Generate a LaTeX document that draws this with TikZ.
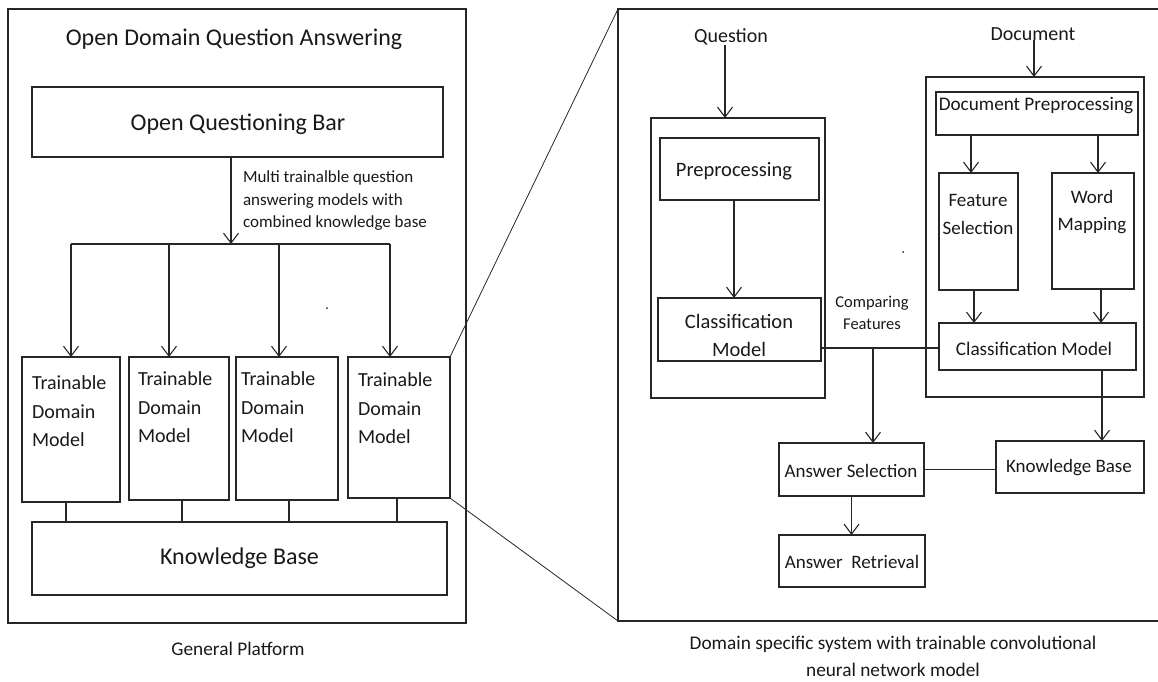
\documentclass[tikz,border=0pt]{standalone}
\usepackage{fontspec}
\setmainfont{Carlito}
\usetikzlibrary{arrows.meta,calc}
\begin{document}
\begin{tikzpicture}[x=1pt,y=-1pt,
  ln/.style={draw=black!85, line width=1.2pt},
  zoomln/.style={draw=black!85, line width=0.8pt},
  arr/.style={ln, -{Straight Barb[length=10pt,width=15pt,line width=1.1pt]}},
  box/.style={draw=black!85, line width=1.3pt, rectangle, inner sep=0pt, outer sep=0pt, anchor=north west, align=center, text=black!90},
  txt/.style={inner sep=0pt, outer sep=0pt, text=black!90},
  fA/.style={font=\fontsize{24}{29}\selectfont},
  fB/.style={font=\fontsize{20}{28.5}\selectfont},
  fC/.style={font=\fontsize{19}{28}\selectfont},
  fD/.style={font=\fontsize{19.2}{26}\selectfont},
  fE/.style={font=\fontsize{17}{22.5}\selectfont},
  fF/.style={font=\fontsize{19.3}{27}\selectfont},
]
\useasboundingbox (0,0) rectangle (1158,681);

% ---------------- left panel ----------------
\node[box, minimum width=458pt, minimum height=614pt] (frameL) at (8,9) {};
\node[txt, fA] (title) at (234,39) {Open Domain Question Answering};
\node[box, minimum width=411pt, minimum height=70pt] (oqb) at (32,87) {};
\node[txt, fA] (oqbt) at (238,124) {Open Questioning Bar};
\node[txt, fE, anchor=north west, align=left] (annot) at (243,171) {Multi trainalble question\\answering models with\\combined knowledge base};

\node[box, minimum width=98pt, minimum height=145pt] (d1) at (22,357) {};
\node[box, minimum width=100pt, minimum height=143pt] (d2) at (129,357) {};
\node[box, minimum width=102pt, minimum height=143pt] (d3) at (236,357) {};
\node[box, minimum width=102pt, minimum height=141pt] (d4) at (348,357) {};
\node[txt, fB, anchor=north west, align=left] (t1) at (32,376) {Trainable\\Domain\\Model};
\node[txt, fB, anchor=north west, align=left] (t2) at (138,372) {Trainable\\Domain\\Model};
\node[txt, fB, anchor=north west, align=left] (t3) at (241,372) {Trainable\\Domain\\Model};
\node[txt, fB, anchor=north west, align=left] (t4) at (358,373) {Trainable\\Domain\\Model};

\node[box, fA, minimum width=415pt, minimum height=73pt] (kbL) at (32,522) {Knowledge Base};
\node[txt, fF] (gp) at (238,649) {General Platform};

\coordinate (hub) at (231,244);
\coordinate (b1) at (71,244);
\coordinate (b2) at (169,244);
\coordinate (b3) at (279,244);
\coordinate (b4) at (390,244);
\draw[arr] (oqb.south -| hub) -- (hub);
\draw[ln] (b1) -- (b4);
\draw[arr] (b1) -- (b1 |- d1.north);
\draw[arr] (b2) -- (b2 |- d2.north);
\draw[arr] (b3) -- (b3 |- d3.north);
\draw[arr] (b4) -- (b4 |- d4.north);

\coordinate (k1) at (66,0);
\coordinate (k2) at (182,0);
\coordinate (k3) at (289,0);
\coordinate (k4) at (397,0);
\draw[ln] (d1.south -| k1) -- (kbL.north -| k1);
\draw[ln] (d2.south -| k2) -- (kbL.north -| k2);
\draw[ln] (d3.south -| k3) -- (kbL.north -| k3);
\draw[ln] (d4.south -| k4) -- (kbL.north -| k4);

\fill[black!85] (327,308) circle (1pt);

% ---------------- right panel ----------------
\coordinate (rtl) at (618,9);
\coordinate (rbl) at (618,621);
\coordinate (rtr) at (1158,9);
\coordinate (rbr) at (1158,621);
\draw[ln] (rtr) -- (rtl) -- (rbl) -- (rbr);
\draw[zoomln] (d4.north east) -- (rtl);
\draw[zoomln] (d4.south east) -- (rbl);

\node[txt, fB] (qtext) at (731,37) {Question};
\node[box, minimum width=174pt, minimum height=280pt] (qcont) at (651,118) {};
\node[box, minimum width=159pt, minimum height=62pt] (pre) at (660,138) {};
\node[txt, font=\fontsize{20.5}{26}\selectfont] (pret) at (734,171) {Preprocessing};
\node[box, minimum width=163pt, minimum height=63pt] (cmL) at (658,298) {};
\node[txt, font=\fontsize{20.5}{28.5}\selectfont, align=center] (cmLt) at (739,335) {Classification\\[-0.5pt]Model};

\node[txt, fB] (dtext) at (1033,34) {Document};
\node[box, minimum width=218pt, minimum height=320pt] (dcont) at (926,77) {};
\node[box, minimum width=202pt, minimum height=43pt] (dpre) at (936,92) {};
\node[txt, fD] (dpret) at (1036,106) {Document Preprocessing};
\node[box, minimum width=79pt, minimum height=117pt] (fs) at (939,173) {};
\node[txt, fC, anchor=north, align=center] (fst) at (978,194) {Feature\\Selection};
\node[box, minimum width=82pt, minimum height=116pt] (wm) at (1052,173) {};
\node[txt, fC, anchor=north, align=center] (wmt) at (1092,190) {Word\\[-1pt]Mapping};
\node[box, minimum width=197pt, minimum height=47pt] (cmR) at (939,323) {};
\node[txt, fD] (cmRt) at (1034,349) {Classification Model};

\node[txt, align=center, font=\fontsize{16.5}{22}\selectfont] (cmp) at (872,313) {Comparing\\Features};
\fill[black!85] (903,252) circle (1pt);

\node[box, minimum width=145pt, minimum height=53pt] (as) at (779,443) {};
\node[txt, fC] (ast) at (851,471) {Answer Selection};
\node[box, minimum width=148pt, minimum height=52pt] (kbR) at (996,441) {};
\node[txt, fC] (kbRt) at (1069,468) {Knowledge Base};
\node[box, minimum width=146pt, minimum height=52pt] (ar) at (779,535) {};
\node[txt, fC] (art) at (852,562) {Answer\ \ Retrieval};

\node[txt, fF, align=center] (cap) at (893,656) {Domain specific system with trainable convolutional\\neural network model};

% connectors right
\coordinate (qa) at (725,0);
\coordinate (pa) at (734,0);
\coordinate (da) at (1034,0);
\coordinate (f1) at (971,0);
\coordinate (f2) at (1098,0);
\coordinate (g1) at (974,0);
\coordinate (g2) at (1101,0);
\coordinate (kx) at (1102,0);
\coordinate (cf) at (873,348);

\draw[arr] (qtext.south -| qa) -- (qcont.north -| qa);
\draw[arr] (pre.south -| pa) -- (cmL.north -| pa);
\draw[arr] (dtext.south -| da) -- (dcont.north -| da);
\draw[arr] (dpre.south -| f1) -- (fs.north -| f1);
\draw[arr] (dpre.south -| f2) -- (wm.north -| f2);
\draw[arr] (fs.south -| g1) -- (cmR.north -| g1);
\draw[arr] (wm.south -| g2) -- (cmR.north -| g2);
\draw[ln] (cmL.east |- cf) -- (cmR.west |- cf);
\draw[arr] (cf) -- (cf |- as.north);
\draw[arr] (cmR.south -| kx) -- (kbR.north -| kx);
\draw[ln] (as.east) -- (as.east -| kbR.west);
\draw[arr] (as.south) -- (as.south |- ar.north);
\end{tikzpicture}
\end{document}
